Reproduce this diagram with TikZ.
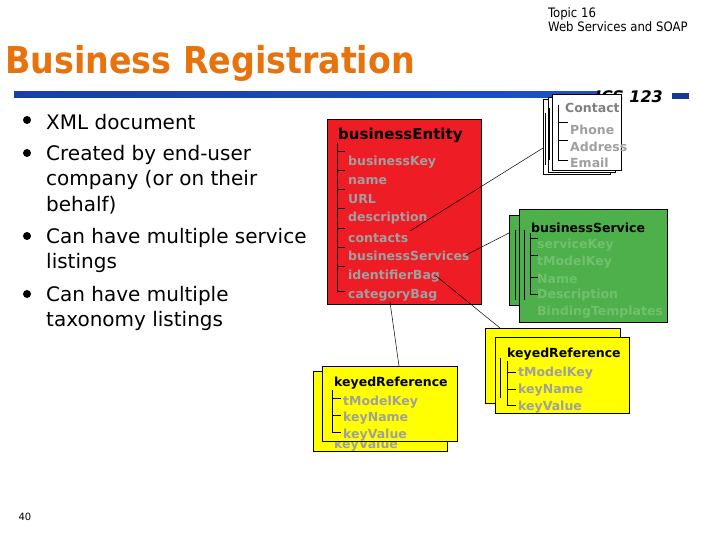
\documentclass[tikz,border=0pt]{standalone}
\usepackage{fontspec}
\setmainfont{DejaVu Sans}
\newfontfamily\cond{DejaVu Sans Condensed}
\usetikzlibrary{calc}
\definecolor{ttl}{HTML}{E8720C}
\definecolor{rul}{HTML}{1F4FD0}
\definecolor{grey}{HTML}{A0A0A0}
\definecolor{boxred}{HTML}{EE1C25}
\definecolor{boxgreen}{HTML}{4DB04A}
\definecolor{boxyel}{HTML}{FFFF00}
\tikzset{
 card/.style={draw=black,line width=0.6pt},
 hd/.style={anchor=west,font=\bfseries\fontsize{12.5}{12.5}\selectfont,inner sep=0},
 it/.style={anchor=west,font=\bfseries\fontsize{12.5}{12.5}\selectfont,text=grey,inner sep=0},
 bul/.style={anchor=west,font=\fontsize{20}{20}\selectfont,inner sep=0},
 dot/.style={circle,fill=black,inner sep=0,minimum size=8pt},
 tree/.style={line width=0.5pt},
 link/.style={line width=0.5pt}
}
\begin{document}
\begin{tikzpicture}[x=1pt,y=-1pt]
\useasboundingbox (0,0) rectangle (720,540);
\fill[white] (0,0) rectangle (720,540);
% header
\node[anchor=north west,inner sep=0,align=left,font=\cond\fontsize{13}{14.5}\selectfont] (hdr) at (548,7) {Topic 16\\Web Services and SOAP};
\node[anchor=west,inner sep=0,text=ttl,font=\cond\bfseries\fontsize{37}{37}\selectfont] (title) at (5,63) {Business Registration};
\shade[left color=rul!80!black, right color=rul] (14,92) rectangle (600,98);
\fill[rul!70!black] (672,93) rectangle (689,99);
\node[anchor=west,inner sep=0,font=\bfseries\itshape\fontsize{16}{16}\selectfont] (ics) at (595,97) {ICS 123};
% bullets
\foreach \y in {120,153,236,294}
  \node[dot] at (27,\y) {};
\node[bul] (b1) at (46,122) {XML document};
\node[bul] (b2) at (46,155) {Created by end-user};
\node[bul] (b3) at (46,180) {company (or on their};
\node[bul] (b4) at (46,205) {behalf)};
\node[bul] (b5) at (46,238) {Can have multiple service};
\node[bul] (b6) at (46,263) {listings};
\node[bul] (b7) at (46,296) {Can have multiple};
\node[bul] (b8) at (46,321) {taxonomy listings};
\node[anchor=center,font=\fontsize{10}{10}\selectfont] (pg) at (25,517) {40};
% businessEntity
\draw[card,fill=boxred] (327,119) rectangle (481,304);
\node[hd,font=\bfseries\fontsize{15}{15}\selectfont] (be) at (338,135) {businessEntity};
\draw[tree] (337,143) -- (337,291);
\foreach \y in {151,170,189,208,228,247,266,291} \draw[tree] (337,\y) -- (345,\y);
\node[it] (bk) at (348,162) {businessKey};
\node[it] (nm) at (348,181) {name};
\node[it] (url) at (348,199) {URL};
\node[it] (de) at (348,218) {description};
\node[it] (co) at (348,238) {contacts};
\node[it] (bs) at (348,256) {businessServices};
\node[it] (ib) at (348,276) {identifierBag};
\node[it] (cb) at (348,295) {categoryBag};
% contact cards
\draw[card,fill=white] (543,99) rectangle (610,174);
\draw[card,fill=white] (548,97) rectangle (615,172);
\draw[card,fill=white] (552,94) rectangle (621,170);
\draw[tree] (549,108) -- (549,160);\draw[tree] (545,113) -- (545,165);
\node[it,text=grey!80!black] (ct) at (565,108) {Contact};
\draw[tree] (558,105) -- (558,160);
\foreach \y in {122,140,160} \draw[tree] (558,\y) -- (568,\y);
\node[it] (ph) at (570,130) {Phone};
\node[it] (ad) at (570,147) {Address};
\node[it] (em) at (570,163) {Email};
% businessService
\draw[card,fill=boxgreen] (509,215) rectangle (530,305);
\draw[card,fill=boxgreen] (519,209) rectangle (667,322);
\draw[tree] (515,230) -- (515,300);
\draw[tree] (524,230) -- (524,300);
\node[hd] (bsv) at (531,228) {businessService};
\draw[tree] (530,233) -- (530,294);
\foreach \y in {238,255,277,294} \draw[tree] (530,\y) -- (538,\y);
\node[it,text=boxgreen!80!white] (sk) at (537,245) {serviceKey};
\node[it,text=boxgreen!80!white] (tk) at (537,262) {tModelKey};
\node[it,text=boxgreen!80!white] (nn) at (537,279) {Name};
\node[it,text=boxgreen!80!white] (dd) at (537,295) {Description};
\node[it,text=boxgreen!80!white] (bt) at (537,312) {BindingTemplates};
% keyedReference right
\draw[card,fill=boxyel] (485,328) rectangle (620,403);
\draw[card,fill=boxyel] (495,337) rectangle (629,413);
\draw[tree] (500,358) -- (500,398);
\node[hd] (kr1) at (507,354) {keyedReference};
\draw[tree] (507,361) -- (507,405);
\foreach \y in {372,389,405} \draw[tree] (507,\y) -- (516,\y);
\node[it] (tm1) at (518,373) {tModelKey};
\node[it] (kn1) at (518,390) {keyName};
\node[it] (kv1) at (518,407) {keyValue};
% keyedReference left
\draw[card,fill=boxyel] (313,371) rectangle (447,451);
\node[it] (kvb) at (334,445) {keyValue};
\draw[card,fill=boxyel] (322,366) rectangle (457,441);
\node[hd] (kr2) at (334,383) {keyedReference};
\draw[tree] (332,390) -- (332,432);
\foreach \y in {398,415,432} \draw[tree] (332,\y) -- (341,\y);
\node[it] (tm2) at (343,402) {tModelKey};
\node[it] (kn2) at (343,418) {keyName};
\node[it] (kv2) at (343,435) {keyValue};
% links
\coordinate (c1) at (543,148);
\coordinate (c2) at (509,233);
\coordinate (c3) at (500,328);
\coordinate (c4) at (399,366);
\draw[link] (410,231) -- (c1);
\draw[link] (466,255) -- (c2);
\draw[link] (436,276) -- (c3);
\draw[link] (390,302) -- (c4);
\end{tikzpicture}
\end{document}
